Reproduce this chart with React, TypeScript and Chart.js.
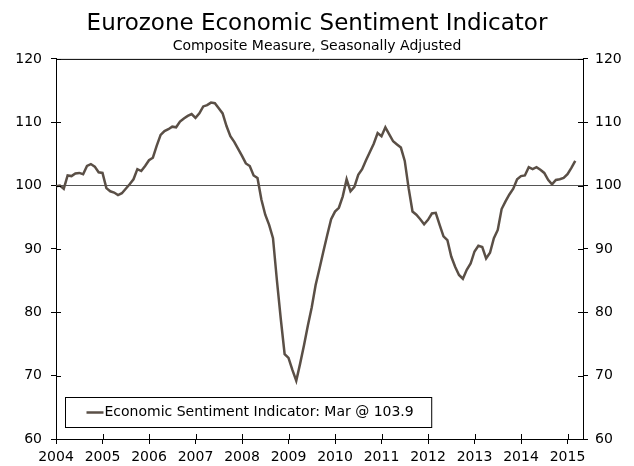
import React, { useEffect, useRef } from "react";
import { Chart, registerables } from "chart.js";

Chart.register(...registerables);

const titleText = "Eurozone Economic Sentiment Indicator";
const subtitleText = "Composite Measure, Seasonally Adjusted";
const seriesLabel = "Economic Sentiment Indicator: Mar @ 103.9";
const yearLabels = ["2004", "2005", "2006", "2007", "2008", "2009", "2010", "2011", "2012", "2013", "2014", "2015"];
const yTickValues = [60, 70, 80, 90, 100, 110, 120];
const referenceLevel = 100;

// Monthly values, Jan 2004 .. Mar 2015
const esi2004 = [99.9, 100.0, 99.5, 101.6, 101.5, 101.9, 102.0, 101.8, 103.1, 103.4, 103.0, 102.1];
const esi2005 = [102.0, 99.6, 99.1, 98.9, 98.5, 98.8, 99.5, 100.2, 101.0, 102.6, 102.3, 103.1];
const esi2006 = [104.0, 104.4, 106.3, 108.0, 108.6, 108.9, 109.3, 109.2, 110.1, 110.6, 111.0, 111.3];
const esi2007 = [110.7, 111.4, 112.5, 112.7, 113.1, 113.0, 112.2, 111.4, 109.4, 107.8, 106.9, 105.8];
const esi2008 = [104.7, 103.5, 103.1, 101.6, 101.2, 97.8, 95.4, 93.8, 91.7, 85.1, 79.0, 73.4];
const esi2009 = [72.8, 70.9, 69.2, 71.9, 74.8, 77.9, 80.8, 84.3, 86.9, 89.6, 92.2, 94.7];
const esi2010 = [95.9, 96.5, 98.3, 101.0, 99.1, 99.8, 101.7, 102.6, 104.0, 105.3, 106.6, 108.3];
const esi2011 = [107.8, 109.2, 108.1, 107.0, 106.5, 106.0, 103.9, 99.6, 95.9, 95.4, 94.7, 93.9];
const esi2012 = [94.6, 95.6, 95.7, 93.8, 92.0, 91.4, 88.8, 87.2, 85.9, 85.3, 86.7, 87.7];
const esi2013 = [89.6, 90.5, 90.3, 88.5, 89.4, 91.7, 93.0, 96.3, 97.5, 98.6, 99.5, 101.0];
const esi2014 = [101.5, 101.6, 102.9, 102.6, 102.9, 102.5, 102.0, 100.9, 100.2, 100.9, 101.0, 101.2];
const esi2015 = [101.8, 102.8, 103.9];

const esiValues = [
  ...esi2004, ...esi2005, ...esi2006, ...esi2007, ...esi2008, ...esi2009,
  ...esi2010, ...esi2011, ...esi2012, ...esi2013, ...esi2014, ...esi2015,
];

const FONT = "'DejaVu Sans', Verdana, sans-serif";
const LINE_COLOR = "#5a4f46";

const framePlugin = {
  id: "frameAndLegend",
  afterDraw(chart: any) {
    const { ctx, chartArea } = chart;
    const { left, right, top, bottom } = chartArea;
    const xs = chart.scales.x;
    const ys = chart.scales.y;
    ctx.save();
    ctx.strokeStyle = "#000";
    ctx.lineWidth = 1;
    // top frame line
    ctx.beginPath();
    ctx.moveTo(left, top + 0.5);
    ctx.lineTo(right, top + 0.5);
    ctx.stroke();
    // inward tick marks
    const inLen = 5;
    ctx.beginPath();
    xs.ticks.forEach((t: any) => {
      const px = Math.round(xs.getPixelForValue(t.value)) + 0.5;
      ctx.moveTo(px, bottom);
      ctx.lineTo(px, bottom - inLen);
    });
    ys.ticks.forEach((t: any) => {
      const py = Math.round(ys.getPixelForValue(t.value)) + 0.5;
      ctx.moveTo(left, py);
      ctx.lineTo(left + inLen, py);
      ctx.moveTo(right, py);
      ctx.lineTo(right - inLen, py);
    });
    ctx.stroke();

    // legend box inside plot area
    const ds = chart.data.datasets[0];
    ctx.font = `14px ${FONT}`;
    const tw = ctx.measureText(ds.label).width;
    const bx = left + 9.5;
    const bh = 30;
    const by = bottom - 41.5;
    const sampleLen = 17;
    const bw = 21 + sampleLen + 1 + tw + 18;
    ctx.fillStyle = "#fff";
    ctx.fillRect(bx, by, bw, bh);
    ctx.strokeStyle = "#000";
    ctx.lineWidth = 1;
    ctx.strokeRect(bx, by, bw, bh);
    const cy = by + bh / 2;
    ctx.strokeStyle = ds.borderColor;
    ctx.lineWidth = 2.5;
    ctx.beginPath();
    ctx.moveTo(bx + 21, cy);
    ctx.lineTo(bx + 21 + sampleLen, cy);
    ctx.stroke();
    ctx.fillStyle = "#000";
    ctx.textBaseline = "middle";
    ctx.textAlign = "left";
    ctx.fillText(ds.label, bx + 21 + sampleLen + 1, cy);
    ctx.restore();
  },
};

export default function App() {
  const canvasRef = useRef<HTMLCanvasElement | null>(null);

  useEffect(() => {
    if (!canvasRef.current) return;
    const points = esiValues.map((v, i) => ({ x: i, y: v }));
    const yearTickValues = yearLabels.map((_, k) => k * 12);

    const yScaleCommon = {
      min: yTickValues[0],
      max: yTickValues[yTickValues.length - 1],
      afterBuildTicks: (scale: any) => {
        scale.ticks = yTickValues.map((v) => ({ value: v }));
      },
      border: { display: true, color: "#000", width: 1 },
    };

    const chart = new Chart(canvasRef.current, {
      type: "line",
      data: {
        datasets: [
          {
            label: seriesLabel,
            data: points,
            borderColor: LINE_COLOR,
            borderWidth: 2.5,
            pointRadius: 0,
            tension: 0,
            fill: false,
          },
        ],
      },
      options: {
        animation: false,
        responsive: true,
        maintainAspectRatio: false,
        layout: { padding: 0 },
        plugins: {
          legend: { display: false },
          tooltip: { enabled: false },
          title: {
            display: true,
            text: titleText,
            color: "#000",
            font: { family: FONT, size: 23, weight: "normal" },
            padding: { top: 10.5, bottom: 0 },
          },
          subtitle: {
            display: true,
            text: subtitleText,
            color: "#000",
            font: { family: FONT, size: 14, weight: "normal" },
            padding: { top: 0, bottom: 4 },
          },
        },
        scales: {
          x: {
            type: "linear",
            min: 0,
            max: 136,
            afterBuildTicks: (scale: any) => {
              scale.ticks = yearTickValues.map((v) => ({ value: v }));
            },
            afterFit: (scale: any) => {
              scale.height = 27;
            },
            ticks: {
              color: "#000",
              font: { family: FONT, size: 14 },
              padding: 5,
              maxRotation: 0,
              autoSkip: false,
              callback: (value: any) => yearLabels[Math.round(Number(value) / 12)],
            },
            grid: {
              drawOnChartArea: false,
              drawTicks: true,
              tickLength: 5,
              color: "#000",
            },
            border: { display: true, color: "#000", width: 1 },
          },
          y: {
            ...yScaleCommon,
            position: "left",
            afterFit: (scale: any) => {
              scale.width = 56;
            },
            ticks: {
              color: "#000",
              font: { family: FONT, size: 14 },
              padding: 9,
            },
            grid: {
              drawOnChartArea: true,
              drawTicks: true,
              tickLength: 5,
              color: (c: any) => (c.tick && c.tick.value === referenceLevel ? "#555" : "rgba(0,0,0,0)"),
              tickColor: "#000",
              lineWidth: 1,
            },
          },
          y2: {
            ...yScaleCommon,
            position: "right",
            afterFit: (scale: any) => {
              scale.width = 51;
            },
            ticks: {
              color: "#000",
              font: { family: FONT, size: 14 },
              padding: 7,
            },
            grid: {
              drawOnChartArea: false,
              drawTicks: true,
              tickLength: 5,
              color: "#000",
            },
          },
        },
      } as any,
      plugins: [framePlugin],
    });
    return () => chart.destroy();
  }, []);

  return (
    <div style={{ position: "fixed", left: 0, top: 0, width: 634, height: 466, background: "#fff" }}>
      <canvas ref={canvasRef} />
    </div>
  );
}
